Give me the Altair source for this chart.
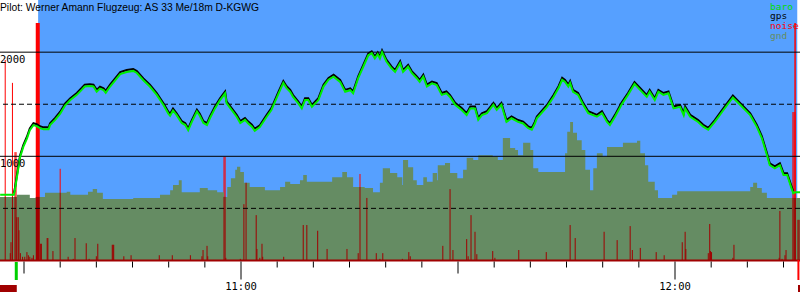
import altair as alt
import pandas as pd
import numpy as np

# ---------------- data (time = minutes after 10:00, altitude in metres) ----------------
title_text = "Pilot: Werner Amann Flugzeug: AS 33 Me/18m D-KGWG"

baro_t = [
    26.7, 28.6, 28.75, 29.45, 29.9, 30.4, 30.8, 31.3, 31.75, 32.2,
    32.7, 33.4, 33.6, 34.3, 35.0, 35.7, 36.4, 37.3, 38.0, 38.4,
    39.1, 39.6, 40.05, 40.5, 41.0, 41.3, 41.9, 42.6, 43.3, 44.2,
    45.1, 45.6, 46.5, 47.4, 48.35, 49.3, 49.95, 50.2, 50.6, 51.1,
    51.8, 52.3, 52.7, 53.2, 53.9, 54.3, 54.8, 55.3, 55.7, 56.4,
    57.1, 57.8, 58.0, 58.7, 59.4, 59.9, 60.55, 61.0, 61.5, 61.9,
    62.6, 63.55, 64.2, 65.2, 65.85, 66.3, 66.8, 67.2, 67.9, 68.4,
    68.85, 69.3, 69.8, 70.5, 70.7, 71.4, 72.1, 72.8, 73.7, 74.4,
    75.1, 75.5, 76.2, 76.9, 77.6, 78.07, 78.5, 78.9, 79.2, 79.5,
    80.1, 80.8, 81.3, 82.0, 82.4, 83.1, 83.6, 84.3, 84.7, 85.2,
    85.7, 86.4, 87.05, 87.75, 88.4, 88.9, 89.6, 90.5, 91.2, 91.7,
    92.35, 92.8, 93.3, 94.0, 94.9, 95.35, 96.0, 96.7, 97.4, 98.3,
    99.0, 99.7, 100.2, 100.6, 100.9, 102.3, 103.2, 103.9, 104.4, 104.8,
    105.25, 105.5, 105.9, 106.6, 107.3, 108.0, 109.2, 109.9, 110.6, 111.0,
    111.7, 112.6, 113.5, 114.4, 115.2, 116.1, 116.5, 117.2, 117.7, 118.4,
    119.1, 119.8, 120.7, 121.2, 121.4, 122.1, 123.2, 123.9, 124.6, 125.5,
    126.7, 128.0, 129.0, 130.4, 131.3, 132.0, 132.7, 133.1, 133.8, 134.5,
    135.0, 135.5, 136.1, 136.35, 136.6, 137.3,
]
baro_alt = [
    630, 630, 680, 990, 1090, 1170, 1250, 1300, 1290, 1270,
    1260, 1260, 1300, 1350, 1410, 1490, 1540, 1590, 1640, 1670,
    1675, 1670, 1620, 1650, 1635, 1610, 1670, 1730, 1790, 1810,
    1820, 1800, 1730, 1670, 1590, 1490, 1410, 1390, 1440, 1395,
    1320, 1300, 1250, 1330, 1430, 1390, 1320, 1300, 1365, 1460,
    1540, 1605, 1510, 1445, 1380, 1320, 1350, 1315, 1285, 1245,
    1280, 1380, 1445, 1605, 1705, 1655, 1620, 1570, 1510, 1460,
    1540, 1540, 1475, 1525, 1540, 1670, 1735, 1765, 1715, 1620,
    1635, 1605, 1750, 1860, 1970, 1990, 1940, 1980, 1940, 2000,
    1910, 1845, 1810, 1895, 1810, 1860, 1800, 1750, 1715, 1765,
    1670, 1700, 1685, 1590, 1605, 1570, 1495, 1445, 1395, 1460,
    1460, 1350, 1395, 1415, 1495, 1445, 1495, 1330, 1365, 1330,
    1315, 1270, 1255, 1310, 1365, 1475, 1570, 1655, 1735, 1715,
    1670, 1705, 1620, 1590, 1495, 1415, 1380, 1415, 1330, 1300,
    1380, 1495, 1590, 1695, 1635, 1570, 1620, 1540, 1620, 1590,
    1605, 1460, 1475, 1395, 1460, 1380, 1330, 1285, 1255, 1330,
    1445, 1565, 1495, 1395, 1285, 1175, 1015, 915, 885, 915,
    820, 820, 695, 645, 655, 655,
]
gps_offset_m = 18          # gps altitude reads slightly above baro
takeoff_t, landing_t = 28.6, 136.35

gnd_t = [
    26.68, 29.0, 30.8, 31.8, 32.9, 35.9, 36.4, 38.85, 39.5, 40.1,
    40.9, 45.1, 48.8, 50.2, 50.6, 51.4, 51.8, 54.3, 55.4, 56.7,
    57.65, 58.1, 58.6, 59.2, 59.45, 59.9, 60.4, 61.2, 63.3, 65.4,
    66.1, 66.8, 68.15, 68.6, 69.1, 72.6, 74.0, 74.65, 75.5, 77.1,
    78.25, 79.2, 79.6, 80.6, 81.6, 82.3, 82.4, 83.1, 83.8, 84.3,
    85.2, 85.7, 86.5, 87.1, 87.2, 88.2, 88.9, 89.9, 90.7, 91.2,
    92.1, 92.8, 94.8, 95.5, 96.2, 97.2, 97.9, 98.3, 99.0, 100.0,
    100.4, 101.1, 104.8, 105.1, 105.5, 105.9, 106.45, 107.1, 107.6, 108.25,
    108.7, 109.2, 110.0, 110.6, 112.8, 114.75, 115.2, 115.85, 116.3, 117.2,
    117.65, 119.6, 120.3, 130.4, 130.8, 131.35, 132.0, 132.7, 137.28,
]
gnd_alt = [
    610, 630, 600, 610, 650, 660, 630, 660, 685, 650,
    590, 600, 630, 675, 725, 770, 655, 695, 675, 655,
    610, 705, 790, 870, 900, 850, 745, 705, 675, 705,
    755, 735, 770, 820, 755, 800, 850, 800, 705, 695,
    655, 745, 885, 840, 800, 725, 965, 895, 770, 725,
    800, 755, 840, 770, 915, 935, 840, 790, 870, 985,
    965, 1010, 995, 965, 1175, 1080, 1060, 1010, 1130, 1060,
    885, 850, 1030, 1235, 1330, 1225, 1155, 1060, 870, 675,
    885, 1030, 995, 1090, 1130, 1150, 1030, 915, 755, 675,
    600, 630, 665, 705, 745, 695, 650, 600, 600,
]

noise_t = [
    27.4, 28.1, 28.2, 28.4, 28.75, 28.9, 29.0, 29.2, 29.3, 29.5,
    29.8, 30.1, 30.4, 30.6, 30.8, 31.1, 31.3, 32.3, 32.4, 33.2,
    33.3, 34.0, 35.0, 36.1, 36.8, 37.05, 38.6, 39.0, 40.0, 40.2,
    42.2, 42.3, 42.4, 43.8, 44.8, 48.7, 50.5, 53.0, 54.6, 54.75,
    55.3, 55.4, 57.65, 57.8, 57.9, 59.9, 60.4, 60.7, 62.1, 62.2,
    62.6, 62.9, 63.0, 65.9, 68.6, 69.1, 70.6, 71.9, 74.65, 76.2,
    76.45, 77.4, 78.7, 79.2, 79.6, 82.3, 83.2, 83.4, 87.9, 88.9,
    89.3, 91.2, 91.4, 91.8, 92.35, 92.6, 94.8, 95.1, 98.4, 102.2,
    105.5, 106.2, 110.2, 112.0, 113.8, 114.1, 115.2, 117.4, 118.5, 121.0,
    121.4, 121.5, 124.6, 124.8, 124.9, 125.05, 128.0, 128.15, 134.4, 134.5,
    134.8, 135.2, 135.35, 136.3, 136.45, 136.6, 137.0, 137.15,
]
noise_v = [
    1925, 70, 175, 1705, 1040, 1040, 415, 415, 290, 70,
    35, 35, 80, 50, 35, 25, 50, 160, 160, 215,
    215, 90, 880, 35, 15, 215, 165, 15, 40, 160,
    150, 150, 150, 40, 50, 50, 50, 50, 40, 100,
    140, 40, 995, 995, 25, 15, 540, 745, 435, 110,
    25, 160, 35, 35, 340, 340, 285, 110, 110, 70,
    830, 600, 70, 15, 70, 15, 80, 40, 140, 685,
    100, 205, 40, 435, 275, 60, 90, 25, 100, 80,
    340, 215, 275, 195, 330, 100, 120, 80, 50, 175,
    275, 110, 70, 350, 90, 80, 25, 150, 25, 475,
    15, 50, 100, 1425, 1425, 1425, 390, 390,
]

start_t, finish_t = 31.9, 136.6      # task start / finish markers
marker_top = 2280
sky_t0, sky_t1 = 31.95, 136.9        # flight window shaded as sky
takeoff_mark_t, landing_mark_t = 28.93, 137.06
engine_t0 = [26.68, 137.0]
engine_t1 = [29.0, 137.28]

grid_solid = [1000, 2000]
grid_dashed = [500, 1500]
y_labels = [1000, 2000]
tick_times = list(range(30, 136, 5))
hour_times = [60, 120]
hour_labels = ["11:00", "12:00"]
legend_labels = ["baro", "gps", "noise", "gnd"]

# ---------------- styles ----------------
BLUE = "#56a0ff"
GND = "#658c63"
RED = "#ff0000"
DARK = "#a00000"
GREEN = "#00f000"
MONO = "DejaVu Sans Mono"
legend_colors = ["#00dd00", "black", RED, GND]

xs = alt.Scale(domain=[26.68, 137.28], nice=False, zero=False)
ys = alt.Scale(domain=[-380, 2501], nice=False, zero=False)

baro = pd.DataFrame({"t": baro_t, "alt": baro_alt})
gps = baro[(baro.t >= takeoff_t) & (baro.t <= landing_t)].copy()
gps["alt"] = gps["alt"] + gps_offset_m
gnd = pd.DataFrame({"t": gnd_t, "alt": gnd_alt})

bars = pd.DataFrame({
    "t": noise_t + [start_t, finish_t],
    "top": noise_v + [marker_top, marker_top],
    "w": [1.0] * len(noise_t) + [4.0, 1.5],
})
idx = np.searchsorted(np.array(gnd_t), bars["t"].values, side="right") - 1
bars["low"] = np.minimum(bars["top"].values, np.array(gnd_alt)[np.clip(idx, 0, None)])

X = lambda f: alt.X(f, scale=xs, axis=None)
Y = lambda f: alt.Y(f, scale=ys, axis=None)

sky = alt.Chart(pd.DataFrame({"t0": [sky_t0], "t1": [sky_t1]})).mark_rect(color=BLUE).encode(
    x=X("t0:Q"), x2="t1:Q", y=alt.YDatum(2501, scale=ys, axis=None), y2=alt.Y2Datum(0))

bright = alt.Chart(bars).mark_rule(color=RED).encode(
    x=X("t:Q"), y=Y("top:Q"), y2=alt.Y2Datum(0),
    strokeWidth=alt.StrokeWidth("w:Q", scale=None))

ground = alt.Chart(gnd).mark_area(color=GND, interpolate="step-after").encode(
    x=X("t:Q"), y=Y("alt:Q"), y2=alt.Y2Datum(0))

dark = alt.Chart(bars).mark_rule(color=DARK).encode(
    x=X("t:Q"), y=Y("low:Q"), y2=alt.Y2Datum(0),
    strokeWidth=alt.StrokeWidth("w:Q", scale=None))

solid = alt.Chart(pd.DataFrame({"a": grid_solid})).mark_rule(color="black", strokeWidth=1).encode(y=Y("a:Q"))
dashed = alt.Chart(pd.DataFrame({"a": grid_dashed})).mark_rule(
    color="black", strokeWidth=1, strokeDash=[5, 3]).encode(y=Y("a:Q"))
base = alt.Chart(pd.DataFrame({"a": [0]})).mark_rule(color=DARK, strokeWidth=2).encode(y=Y("a:Q"))

gps_line = alt.Chart(gps).mark_line(color="black", strokeWidth=2).encode(x=X("t:Q"), y=Y("alt:Q"))
baro_line = alt.Chart(baro).mark_line(color=GREEN, strokeWidth=2).encode(x=X("t:Q"), y=Y("alt:Q"))

ticks_df = pd.DataFrame({"t": tick_times})
ticks_df["len"] = np.where(ticks_df.t % 60 == 0, 18, np.where(ticks_df.t % 30 == 0, 12, 6))
tick_layers = []
for L in [6, 12, 18]:
    tick_layers.append(
        alt.Chart(ticks_df[ticks_df["len"] == L]).mark_rule(color="black", strokeWidth=1).encode(
            x=X("t:Q"), y=alt.value(261.5), y2=alt.value(261.5 + L)))

tick_text = alt.Chart(pd.DataFrame({"t": hour_times, "l": hour_labels})).mark_text(
    font=MONO, fontSize=10.5, color="black", align="center", baseline="alphabetic").encode(
    x=X("t:Q"), y=alt.value(290), text="l:N")

ylab = alt.Chart(pd.DataFrame({"a": y_labels, "l": [str(v) for v in y_labels]})).mark_text(
    font=MONO, fontSize=10.5, color="black", align="left", baseline="top", dy=3).encode(
    x=alt.value(0), y=Y("a:Q"), text="l:N")

takeoff = alt.Chart(pd.DataFrame({"t": [takeoff_mark_t]})).mark_rule(color="#00d000", strokeWidth=3).encode(
    x=X("t:Q"), y=alt.value(262), y2=alt.value(280))
landing = alt.Chart(pd.DataFrame({"t": [landing_mark_t]})).mark_rule(color=RED, strokeWidth=2).encode(
    x=X("t:Q"), y=alt.value(260), y2=alt.value(280))
engine = alt.Chart(pd.DataFrame({"t0": engine_t0, "t1": engine_t1})).mark_rect(color=DARK).encode(
    x=X("t0:Q"), x2="t1:Q", y=alt.value(285), y2=alt.value(292))

title = alt.Chart(pd.DataFrame({"l": [title_text]})).mark_text(
    font="Liberation Sans", fontSize=10.3, color="black", align="left", baseline="alphabetic").encode(
    x=alt.value(0), y=alt.value(11), text="l:N")

legend_layers = []
for i, (lab, col) in enumerate(zip(legend_labels, legend_colors)):
    legend_layers.append(
        alt.Chart(pd.DataFrame({"l": [lab]})).mark_text(
            font=MONO, fontSize=9.5, color=col, align="left", baseline="alphabetic").encode(
            x=alt.value(770), y=alt.value(9.5 + 9.7 * i), text="l:N"))

chart = alt.layer(
    sky, bright, ground, dark, solid, dashed, base, gps_line, baro_line,
    *tick_layers, tick_text, ylab, takeoff, landing, engine, title, *legend_layers
).properties(
    width=800, height=300, padding=0,
    autosize=alt.AutoSizeParams(type="none"), background="white"
).configure_view(stroke=None)

chart.save("out.html", embed_options={"renderer": "svg", "actions": False})
